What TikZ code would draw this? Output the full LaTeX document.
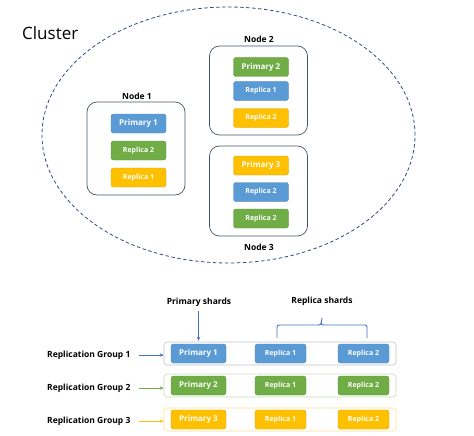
\documentclass[tikz,border=0pt]{standalone}
\usepackage{fontspec}
\setmainfont{Open Sans}
\usetikzlibrary{shapes.geometric,arrows.meta}
\definecolor{cblue}{HTML}{5B9BD5}
\definecolor{cgreen}{HTML}{70AD47}
\definecolor{cyellow}{HTML}{FFC000}
\definecolor{cslate}{HTML}{44546A}
\definecolor{cdash}{HTML}{2F4B7C}
\definecolor{cline}{HTML}{4472C4}
\begin{document}
\begin{tikzpicture}[x=1pt,y=-1pt,
  shard/.style={rounded corners=2.5pt, minimum width=55pt, minimum height=19pt, inner sep=0pt, text=white, draw=#1!85!black, line width=0.4pt, fill=#1},
  pfont/.style={font=\bfseries\fontsize{8}{9}\selectfont},
  rfont/.style={font=\bfseries\fontsize{7}{8}\selectfont},
  rshard/.style={shard=#1, minimum width=51pt},
  hostbox/.style={draw=cslate, line width=0.7pt, rounded corners=10pt, minimum width=98pt, minimum height=90pt, inner sep=0pt},
  lbl/.style={font=\bfseries\fontsize{8.5}{9}\selectfont, inner sep=0pt},
  rowbox/.style={draw=#1, line width=0.6pt, rounded corners=3pt, minimum width=232pt, minimum height=23pt, inner sep=0pt, fill=white},
  garrow/.style={draw=#1, line width=0.7pt, -{Stealth[length=4pt,width=3.5pt]}}
]
\useasboundingbox (0,0) rectangle (474,436);
% cluster
\node[draw=cdash, dashed, dash pattern=on 3.5pt off 2.5pt, line width=0.8pt, ellipse, minimum width=373pt, minimum height=256pt, inner sep=0pt] (cluster) at (228.5,135) {};
\node[font=\fontsize{17}{19}\selectfont, anchor=west, inner sep=0pt] (clabel) at (22,33) {Cluster};

% Node 1
\node[hostbox, minimum height=93pt] (h1) at (136,148.5) {};
\node[lbl] (h1l) at (137,96) {Node 1};
\node[shard=cblue, pfont] (n1a) at (138.5,123.5) {Primary 1};
\node[shard=cgreen, rfont] (n1b) at (138.5,150.5) {Replica 2};
\node[shard=cyellow, rfont] (n1c) at (138.5,177.5) {Replica 1};

% Node 2
\node[hostbox, minimum height=89pt] (h2) at (258.5,90.5) {};
\node[lbl] (h2l) at (259,39) {Node 2};
\node[shard=cgreen, pfont] (n2a) at (261,67) {Primary 2};
\node[shard=cblue, rfont] (n2b) at (261,91) {Replica 1};
\node[shard=cyellow, rfont] (n2c) at (261,118) {Replica 2};

% Node 3
\node[hostbox, minimum height=90pt] (h3) at (258.5,191) {};
\node[lbl] (h3l) at (259,247) {Node 3};
\node[shard=cyellow, pfont] (n3a) at (261,165.5) {Primary 3};
\node[shard=cblue, rfont] (n3b) at (261,192) {Replica 2};
\node[shard=cgreen, rfont] (n3c) at (261,218.5) {Replica 2};

% bottom headings
\node[lbl] (ps) at (199,302) {Primary shards};
\node[lbl] (rs) at (322,301) {Replica shards};

% rows
\node[rowbox=cslate!35] (r1) at (280,353.5) {};
\node[rowbox=cgreen!40] (r2) at (280,385.5) {};
\node[rowbox=cyellow!45] (r3) at (280,419.5) {};

\node[shard=cblue, pfont] (g1p) at (198.5,353.5) {Primary 1};
\node[rshard=cblue, rfont] (g1a) at (280.5,353.5) {Replica 1};
\node[rshard=cblue, rfont] (g1b) at (363.5,353.5) {Replica 2};

\node[shard=cgreen, pfont] (g2p) at (198.5,385.5) {Primary 2};
\node[rshard=cgreen, rfont] (g2a) at (280.5,385.5) {Replica 1};
\node[rshard=cgreen, rfont] (g2b) at (363.5,385.5) {Replica 2};

\node[shard=cyellow, pfont] (g3p) at (198.5,419.5) {Primary 3};
\node[rshard=cyellow, rfont] (g3a) at (280.5,419.5) {Replica 1};
\node[rshard=cyellow, rfont] (g3b) at (363.5,419.5) {Replica 2};

\node[lbl, anchor=west] (l1) at (47,355) {Replication Group 1};
\node[lbl, anchor=west] (l2) at (47,388) {Replication Group 2};
\node[lbl, anchor=west] (l3) at (47,421) {Replication Group 3};

\draw[garrow=cline] ([xshift=8pt]l1.east) -- (l1.east -| r1.west);
\draw[garrow=cgreen] ([xshift=8pt]l2.east) -- (l2.east -| r2.west);
\draw[garrow=cyellow] ([xshift=8pt]l3.east) -- (l3.east -| r3.west);

% primary shards arrow
\coordinate (pstop) at ([yshift=-5pt]ps.south);
\draw[garrow=cline] (pstop -| g1p.north) -- ([yshift=3pt]g1p.north);

% replica brace
\coordinate (bl) at (277,338);
\coordinate (br) at (367,338);
\coordinate (bt) at ([yshift=-8pt]rs.south);
\draw[draw=cline, line width=0.9pt]
  (bl) -- (277,329) .. controls (277,325) .. (281,325) -- (317,325)
  .. controls (321,325) .. (bt |- 0,318)
  .. controls (321,325) .. (325,325) -- (363,325)
  .. controls (367,325) .. (367,329) -- (br);
\end{tikzpicture}
\end{document}
